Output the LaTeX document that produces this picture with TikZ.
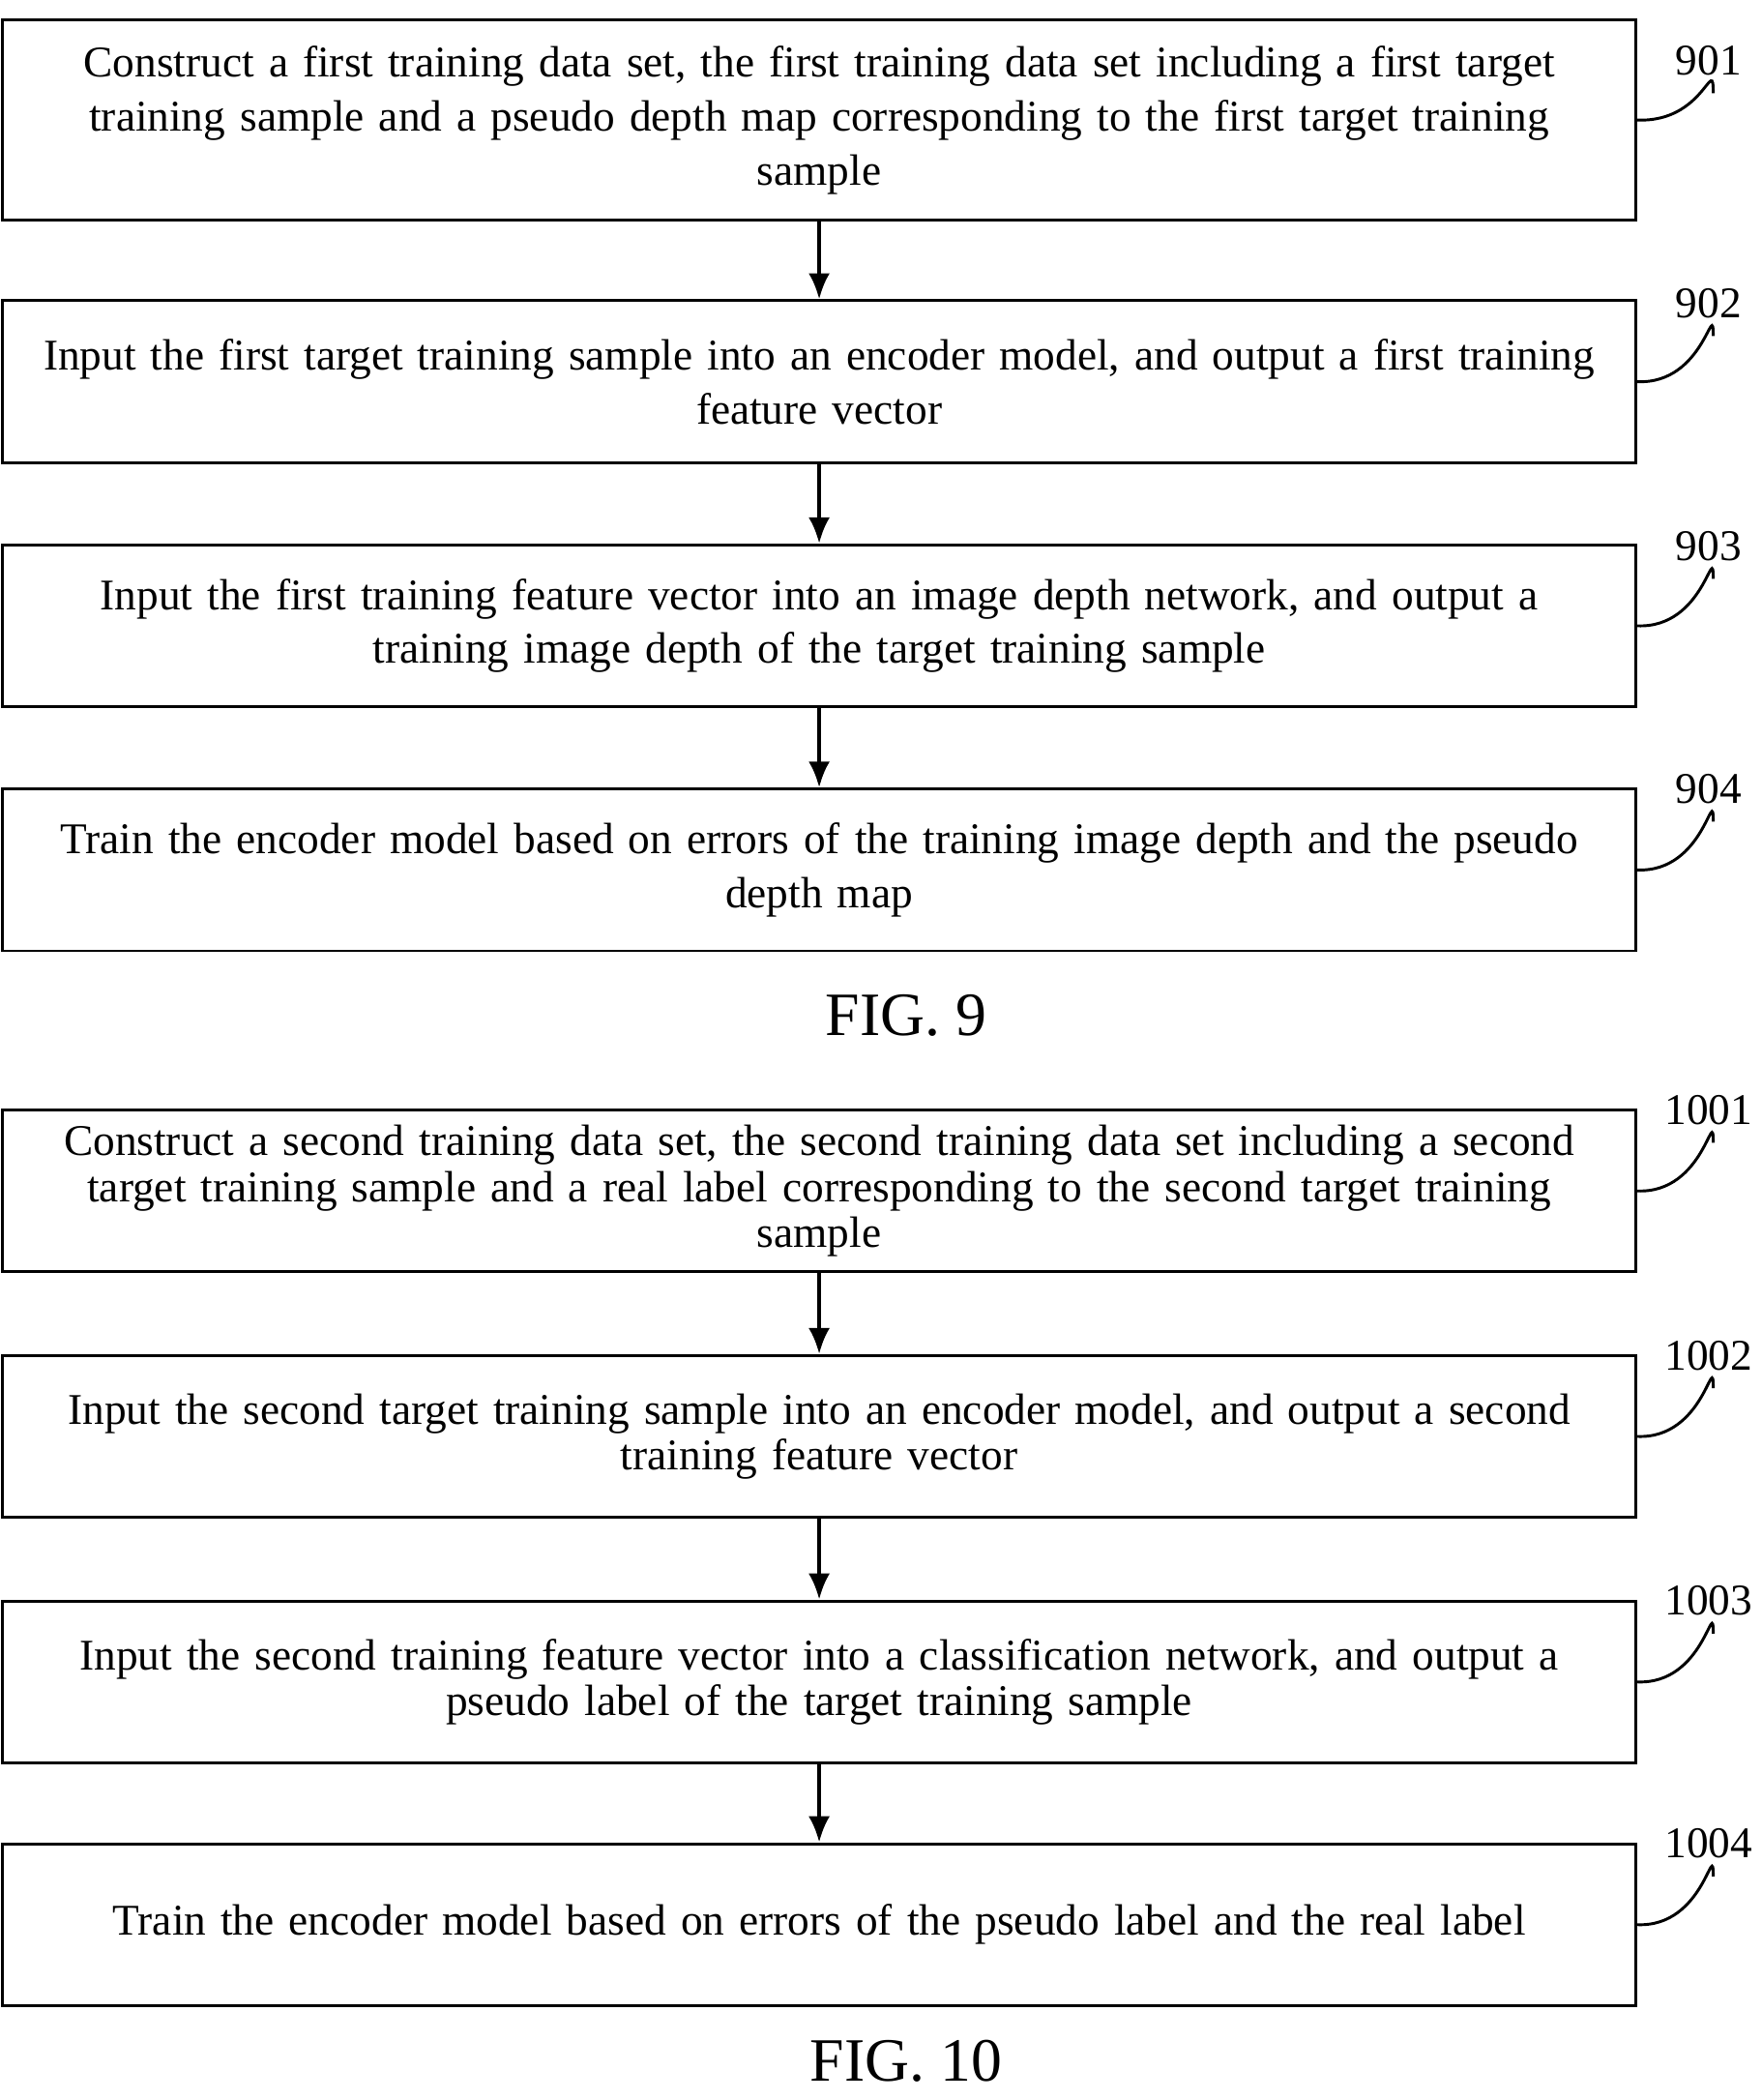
\documentclass[tikz,border=0pt]{standalone}
\usepackage{fontspec}
\setmainfont{Liberation Serif}
\usetikzlibrary{positioning,arrows.meta}
\tikzset{
    procbox/.style={draw, line width=1.2pt, minimum width=23.7cm, text width=24cm, align=center,
        font=\fontsize{18.5}{22.8}\selectfont},
    tight/.style={font=\fontsize{18.5}{19.4}\selectfont},
    flow/.style={-{Latex[length=11pt,width=9pt]}, line width=1.6pt},
    tag/.style={font=\fontsize{18.5}{21}\selectfont},
    figname/.style={font=\fontsize{26}{28}\selectfont}
}
\begin{document}
\begin{tikzpicture}[x=0.02cm,y=-0.02cm]
    \useasboundingbox (0,0) rectangle (1306,1557);
    % FIG. 9
    \node[procbox, minimum height=2.96cm] (s901) at (607.5,89) {Construct a first training data set, the first training data set including a first target\\ training sample and a pseudo depth map corresponding to the first target training\\ sample};
    \node[procbox, minimum height=2.4cm] (s902) at (607.5,283) {Input the first target training sample into an encoder model, and output a first training\\ feature vector};
    \node[procbox, minimum height=2.4cm] (s903) at (607.5,464) {Input the first training feature vector into an image depth network, and output a\\ training image depth of the target training sample};
    \node[procbox, minimum height=2.4cm] (s904) at (607.5,645) {Train the encoder model based on errors of the training image depth and the pseudo\\ depth map};
    \node[figname] (fig9) at (672,753) {FIG. 9};
    % FIG. 10
    \node[procbox, tight, minimum height=2.4cm] (s1001) at (607.5,883) {Construct a second training data set, the second training data set including a second\\ target training sample and a real label corresponding to the second target training\\ sample};
    \node[procbox, tight, minimum height=2.4cm] (s1002) at (607.5,1065) {Input the second target training sample into an encoder model, and output a second\\ training feature vector};
    \node[procbox, tight, minimum height=2.4cm] (s1003) at (607.5,1247) {Input the second training feature vector into a classification network, and output a\\ pseudo label of the target training sample};
    \node[procbox, minimum height=2.4cm] (s1004) at (607.5,1427) {Train the encoder model based on errors of the pseudo label and the real label};
    \node[figname] (fig10) at (672,1528) {FIG. 10};
    % arrows
    \foreach \a/\b in {s901/s902, s902/s903, s903/s904, s1001/s1002, s1002/s1003, s1003/s1004}
        \draw[flow] (\a) -- (\b);
    % step numbers
    \foreach \s/\y in {901/45, 902/225, 903/405, 904/585, 1001/823, 1002/1005, 1003/1187, 1004/1367} {
        \node[tag] (t\s) at (1267,\y) {\s};
        \draw[line width=1.2pt] (s\s.east) .. controls +(50,2) and +(0,-30) .. ([xshift=2pt,yshift=-4pt]t\s.south);
    }
\end{tikzpicture}
\end{document}
